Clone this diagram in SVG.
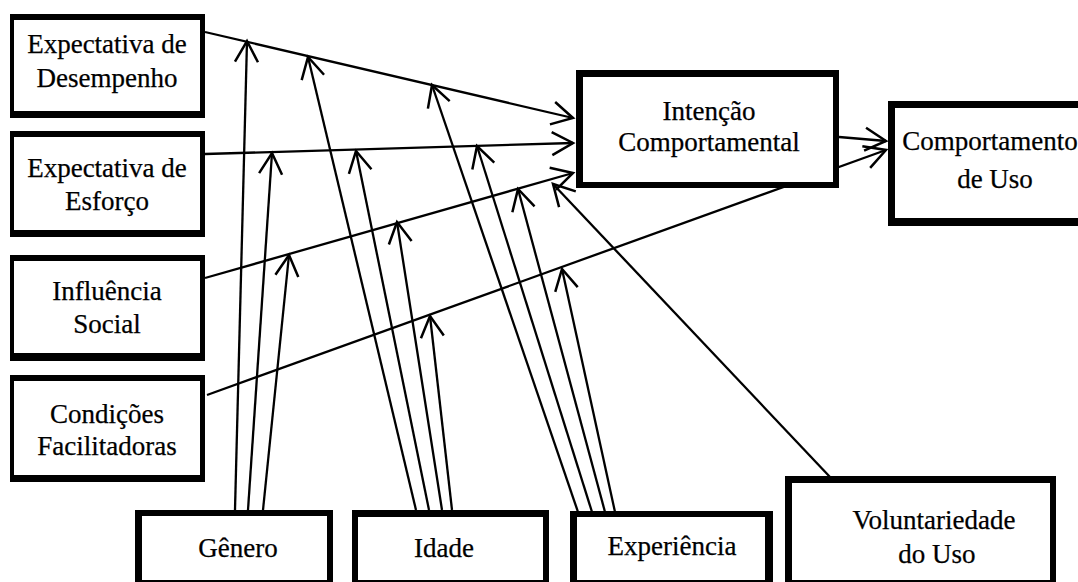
<svg xmlns="http://www.w3.org/2000/svg" width="1078" height="582" viewBox="0 0 1078 582">
  <style>
    .frame { fill: #000; }
    .face { fill: #fff; }
    .lbl { font-family: "Liberation Serif", "Times New Roman", serif; font-size: 27px; fill: #000; text-anchor: middle; stroke: #000; stroke-width: 0.25; }
    .wire { fill: none; stroke: #000; stroke-width: 2.3; marker-end: url(#open); }
  </style>
  <defs>
    <marker id="open" viewBox="-24 -14 27 28" markerWidth="27" markerHeight="28" refX="0" refY="0" orient="auto" markerUnits="userSpaceOnUse">
      <path d="M-21,-11.5 L0,0 L-21,11.5" fill="none" stroke="#000" stroke-width="2.5" stroke-linejoin="miter"/>
    </marker>
  </defs>
  <rect width="1078" height="582" fill="#fff"/>

  <!-- connectors -->
  <g id="connectors">
    <path class="wire" d="M205,32 L573,118"/>
    <path class="wire" d="M205,154 L573,143"/>
    <path class="wire" d="M205,278 L573,173"/>
    <path class="wire" d="M207,395 L886,150"/>
    <path class="wire" d="M839,137 L886,141"/>
    <!-- Gênero -->
    <path class="wire" d="M235,510 L247,41"/>
    <path class="wire" d="M248,510 L272,153"/>
    <path class="wire" d="M263,510 L289,255"/>
    <!-- Idade -->
    <path class="wire" d="M416,510 L308,57"/>
    <path class="wire" d="M429,510 L356,151"/>
    <path class="wire" d="M442,510 L397,222"/>
    <path class="wire" d="M452,510 L430,316"/>
    <!-- Experiência -->
    <path class="wire" d="M578,512 L432,85"/>
    <path class="wire" d="M592,512 L477,146"/>
    <path class="wire" d="M605,512 L518,189"/>
    <path class="wire" d="M615,512 L562,269"/>
    <!-- Voluntariedade -->
    <path class="wire" d="M830,477 L553,184"/>
  </g>

  <g id="desempenho">
    <rect class="frame" x="10" y="14" width="195" height="104"/>
    <rect class="face" x="14" y="20" width="186" height="91"/>
    <text class="lbl" x="107" y="53">Expectativa de</text>
    <text class="lbl" x="107" y="87">Desempenho</text>
  </g>
  <g id="esforco">
    <rect class="frame" x="10" y="131" width="195" height="106"/>
    <rect class="face" x="14" y="137" width="186" height="93"/>
    <text class="lbl" x="107" y="177">Expectativa de</text>
    <text class="lbl" x="107" y="210">Esforço</text>
  </g>
  <g id="influencia">
    <rect class="frame" x="10" y="255" width="195" height="106"/>
    <rect class="face" x="14" y="261" width="186" height="92"/>
    <text class="lbl" x="107" y="300">Influência</text>
    <text class="lbl" x="107" y="333">Social</text>
  </g>
  <g id="condicoes">
    <rect class="frame" x="10" y="375" width="195" height="107"/>
    <rect class="face" x="14" y="381" width="186" height="94"/>
    <text class="lbl" x="107" y="423">Condições</text>
    <text class="lbl" x="107" y="455">Facilitadoras</text>
  </g>
  <g id="intencao">
    <rect class="frame" x="576" y="70" width="263" height="118"/>
    <rect class="face" x="583" y="77" width="250" height="105"/>
    <text class="lbl" x="709" y="120">Intenção</text>
    <text class="lbl" x="709" y="151">Comportamental</text>
  </g>
  <g id="comportamento">
    <rect class="frame" x="888" y="101" width="200" height="125"/>
    <rect class="face" x="895" y="108" width="200" height="110"/>
    <text class="lbl" x="990" y="150">Comportamento</text>
    <text class="lbl" x="995" y="188">de Uso</text>
  </g>
  <g id="genero">
    <rect class="frame" x="135" y="510" width="198" height="80"/>
    <rect class="face" x="142" y="516" width="185" height="64"/>
    <text class="lbl" x="238" y="557">Gênero</text>
  </g>
  <g id="idade">
    <rect class="frame" x="352" y="510" width="197" height="80"/>
    <rect class="face" x="358" y="517" width="185" height="63"/>
    <text class="lbl" x="444" y="557">Idade</text>
  </g>
  <g id="experiencia">
    <rect class="frame" x="570" y="511" width="203" height="80"/>
    <rect class="face" x="577" y="517" width="188" height="63"/>
    <text class="lbl" x="672" y="555">Experiência</text>
  </g>
  <g id="voluntariedade">
    <rect class="frame" x="785" y="476" width="271" height="115"/>
    <rect class="face" x="792" y="483" width="258" height="97"/>
    <text class="lbl" x="934" y="529">Voluntariedade</text>
    <text class="lbl" x="937" y="563">do Uso</text>
  </g>
</svg>
